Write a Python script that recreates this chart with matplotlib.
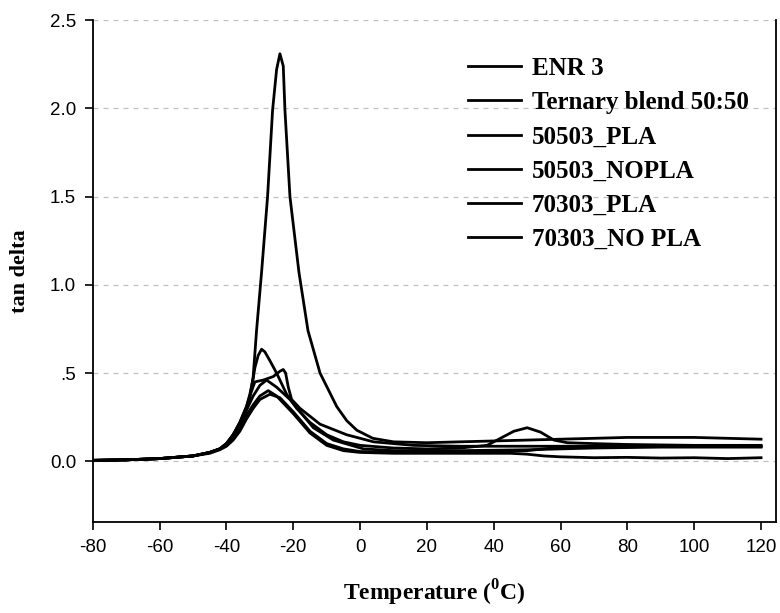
import matplotlib.pyplot as plt
from matplotlib.ticker import FixedLocator

plt.rcParams['mathtext.fontset'] = 'custom'
plt.rcParams['mathtext.bf'] = 'Liberation Serif:bold'
plt.rcParams['mathtext.rm'] = 'Liberation Serif:bold'
plt.rcParams['axes.unicode_minus'] = False

# tan delta vs temperature, read point by point
enr3_t = [-80, -70, -60, -50, -45, -42, -40, -38, -36, -34, -33, -32, -31, -29.5, -27.7,
          -26.2, -25, -24, -23, -22.5, -21, -18.3, -15.6, -12, -7, -4, -1, 3.8, 10, 20,
          30, 40, 50, 60, 70, 80, 90, 100, 110, 120]
enr3_tan = [0.005, 0.008, 0.015, 0.03, 0.05, 0.07, 0.10, 0.14, 0.20, 0.29, 0.36, 0.48, 0.74,
            1.07, 1.50, 1.99, 2.22, 2.31, 2.24, 1.99, 1.50, 1.07, 0.74, 0.50, 0.31, 0.23,
            0.176, 0.13, 0.11, 0.105, 0.11, 0.115, 0.12, 0.125, 0.13, 0.135, 0.135, 0.135,
            0.13, 0.125]

ternary_t = [-80, -70, -60, -50, -45, -42, -40, -38, -36, -34, -33, -32, -31.5, -30.5, -29.5,
             -28.5, -27, -25, -22, -19, -15, -10, -5, 0, 10, 20, 30, 38, 42, 46, 50, 54,
             58, 62, 70, 80, 100, 120]
ternary_tan = [0.005, 0.008, 0.015, 0.03, 0.05, 0.07, 0.10, 0.15, 0.22, 0.31, 0.38, 0.47,
               0.53, 0.60, 0.635, 0.62, 0.57, 0.50, 0.38, 0.30, 0.22, 0.15, 0.11, 0.09,
               0.075, 0.07, 0.075, 0.09, 0.13, 0.17, 0.19, 0.165, 0.12, 0.105, 0.10,
               0.095, 0.09, 0.09]

pla50_t = [-80, -70, -60, -50, -45, -42, -40, -38, -36, -34, -33, -31.5, -29, -26, -24,
           -23, -22.3, -21.5, -20.5, -18, -12, -4, 4, 16, 30, 50, 70, 90, 120]
pla50_tan = [0.005, 0.008, 0.015, 0.03, 0.05, 0.07, 0.10, 0.15, 0.22, 0.31, 0.37, 0.45,
             0.46, 0.48, 0.51, 0.52, 0.50, 0.42, 0.35, 0.30, 0.21, 0.15, 0.11, 0.09,
             0.085, 0.085, 0.085, 0.085, 0.085]

nopla50_t = [-80, -70, -60, -50, -45, -42, -40, -38, -36, -34, -32, -30, -28, -25, -21,
             -14, -8, 1, 10, 30, 50, 70, 90, 120]
nopla50_tan = [0.005, 0.008, 0.015, 0.03, 0.05, 0.07, 0.10, 0.15, 0.21, 0.29, 0.37, 0.43,
               0.46, 0.42, 0.35, 0.19, 0.12, 0.07, 0.06, 0.06, 0.065, 0.075, 0.08, 0.08]

pla70_t = [-80, -70, -60, -50, -45, -42, -40, -38, -36, -34, -32, -30, -27.5, -25, -20,
           -15, -10, -5, 0, 10, 30, 45, 50, 55, 60, 70, 80, 90, 100, 110, 120]
pla70_tan = [0.005, 0.008, 0.015, 0.03, 0.05, 0.07, 0.09, 0.13, 0.19, 0.26, 0.32, 0.37,
             0.40, 0.37, 0.27, 0.16, 0.09, 0.06, 0.05, 0.045, 0.045, 0.045, 0.04, 0.03,
             0.025, 0.02, 0.022, 0.018, 0.02, 0.015, 0.02]

nopla70_t = [-80, -70, -60, -50, -45, -42, -40, -38, -36, -34, -32, -30, -27, -24, -20,
             -15, -10, -5, 0, 10, 30, 50, 60, 80, 100, 120]
nopla70_tan = [0.005, 0.008, 0.015, 0.03, 0.045, 0.065, 0.085, 0.12, 0.17, 0.24, 0.30, 0.35,
               0.38, 0.36, 0.28, 0.17, 0.10, 0.07, 0.055, 0.05, 0.05, 0.06, 0.08, 0.085,
               0.085, 0.085]

names = ['ENR 3', 'Ternary blend 50:50', '50503_PLA', '50503_NOPLA', '70303_PLA',
         '70303_NO PLA']
curves = [(enr3_t, enr3_tan), (ternary_t, ternary_tan), (pla50_t, pla50_tan),
          (nopla50_t, nopla50_tan), (pla70_t, pla70_tan), (nopla70_t, nopla70_tan)]

yticks = [0.0, 0.5, 1.0, 1.5, 2.0, 2.5]
ytick_labels = ['0.0', '.5', '1.0', '1.5', '2.0', '2.5']
xticks = [-80, -60, -40, -20, 0, 20, 40, 60, 80, 100, 120]

fig = plt.figure(figsize=(7.8, 6.13), dpi=100)
ax = fig.add_axes([0.119, 0.148, 0.876, 0.819])

for (t, tan), name in zip(curves, names):
    ax.plot(t, tan, color='black', lw=2.0, label=name)

ax.set_xlim(-80, 124.5)
ax.set_ylim(-0.346, 2.5)
ax.yaxis.set_major_locator(FixedLocator(yticks))
ax.set_yticklabels(ytick_labels)
ax.set_xticks(xticks)
ax.grid(axis='y', color='#c0c0c0', ls=(0, (4, 4)), lw=0.9)
ax.set_axisbelow(True)

ax.spines['top'].set_visible(False)
for s in ['left', 'right', 'bottom']:
    ax.spines[s].set_linewidth(1.3)
ax.tick_params(direction='out', length=6, width=1.2, labelsize=13.5, pad=6)
for lbl in ax.get_xticklabels() + ax.get_yticklabels():
    lbl.set_fontfamily('Liberation Sans')

ax.set_xlabel(r'Temperature ($^{\mathbf{0}}$C)', fontsize=17, fontweight='bold',
              fontfamily='Liberation Serif', labelpad=16)
ax.set_ylabel('tan delta', fontsize=16, fontweight='bold',
              fontfamily='Liberation Serif', labelpad=14)

leg = ax.legend(loc='upper left', bbox_to_anchor=(0.535, 0.947), frameon=False,
                prop={'family': 'Liberation Serif', 'weight': 'bold', 'size': 18},
                handlelength=2.1, labelspacing=0.45, handletextpad=0.45,
                borderaxespad=0.0)

fig.savefig('out.png', dpi=100)
